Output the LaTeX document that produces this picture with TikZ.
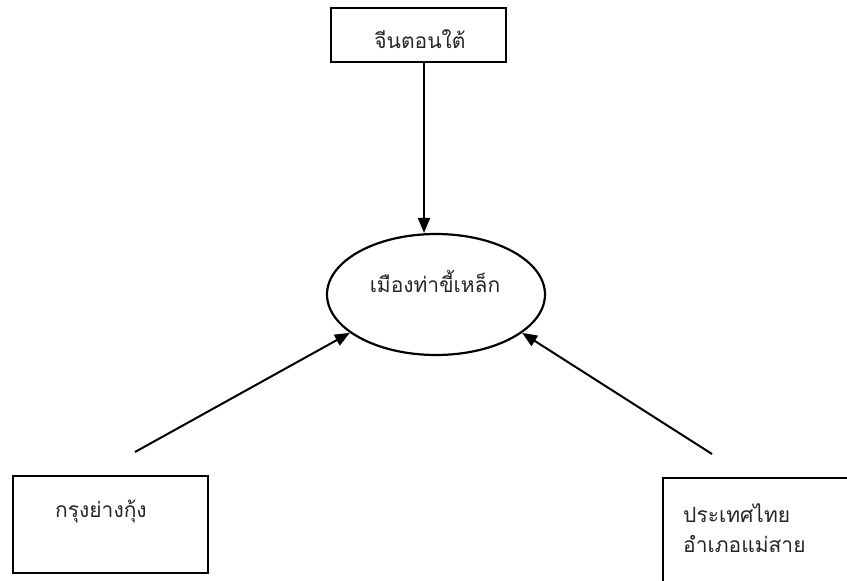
\documentclass[tikz,border=0pt]{standalone}
\usepackage{fontspec}
\newfontfamily\thai[Script=Thai]{Loma}
\usetikzlibrary{arrows.meta,shapes.geometric}
\tikzset{
  box/.style={draw=black, line width=2pt, rectangle, inner sep=0pt},
  oval/.style={draw=black, line width=2.2pt, ellipse, inner sep=0pt},
  lbl/.style={font=\thai\fontsize{21}{25}\selectfont, inner sep=0pt, text=black!85},
  arr/.style={draw=black, line width=2pt, -{Triangle[length=15pt,width=12pt]}}
}
\begin{document}
\begin{tikzpicture}[x=1pt,y=-1pt]
\useasboundingbox (0,0) rectangle (847,581);
\clip (0,0) rectangle (847,581);
\fill[white] (0,0) rectangle (847,581);
% boxes
\node[box, minimum width=175pt, minimum height=54pt] (top) at (418.5,35) {};
\node[lbl, anchor=base] (toptxt) at (420,48) {จีนตอนใต้};
\node[oval, minimum width=218pt, minimum height=121pt] (ell) at (436,294.5) {};
\node[lbl, anchor=base] (elltxt) at (435,292) {เมืองท่าขี้เหล็ก};
\node[box, minimum width=195pt, minimum height=97pt] (left) at (110.5,524.5) {};
\node[lbl, anchor=base west] (lefttxt) at (55,517) {กรุงย่างกุ้ง};
\node[box, minimum width=260pt, minimum height=160pt] (right) at (793,558) {};
\node[lbl, anchor=base west] (righttxt1) at (683,522) {ประเทศไทย};
\node[lbl, anchor=base west] (righttxt2) at (683,552) {อำเภอแม่สาย};
% connector free ends
\coordinate (lstart) at (135,452);
\coordinate (rstart) at (712,454);
% connectors
\draw[arr] ([xshift=5.5pt]top.south) -- ([xshift=5.5pt]top.south |- ell.north);
\draw[arr] (lstart) -- (ell.204);
\draw[arr] (rstart) -- (ell.336);
\end{tikzpicture}
\end{document}
